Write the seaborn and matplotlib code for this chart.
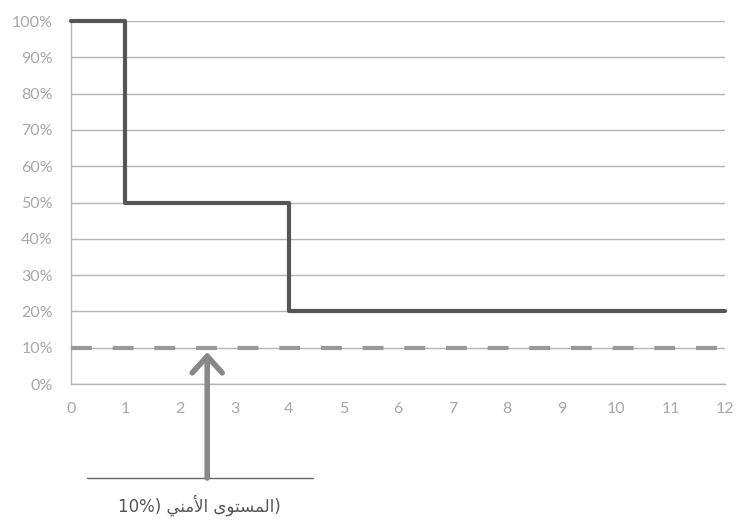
import matplotlib
matplotlib.use("Agg")
import matplotlib.pyplot as plt
import seaborn as sns

# ---- data ----
months = [0, 1, 4, 12]
level = [100, 50, 20, 20]
safety_x = [0, 12]
safety_y = [10, 10]
x_ticks = list(range(0, 13))
y_ticks = list(range(0, 101, 10))
safety_name = "المستوى الأمني"
safety_value = 10

# ---- minimal Arabic shaping (matplotlib has no shaping / bidi) ----
FORMS = {  # isolated, final, initial, medial
    "ا": (0xFE8D, 0xFE8E, None, None),
    "أ": (0xFE83, 0xFE84, None, None),
    "ل": (0xFEDD, 0xFEDE, 0xFEDF, 0xFEE0),
    "م": (0xFEE1, 0xFEE2, 0xFEE3, 0xFEE4),
    "س": (0xFEB1, 0xFEB2, 0xFEB3, 0xFEB4),
    "ت": (0xFE95, 0xFE96, 0xFE97, 0xFE98),
    "و": (0xFEED, 0xFEEE, None, None),
    "ى": (0xFEEF, 0xFEF0, None, None),
    "ن": (0xFEE5, 0xFEE6, 0xFEE7, 0xFEE8),
    "ي": (0xFEF1, 0xFEF2, 0xFEF3, 0xFEF4),
}
LAM_ALEF = {"ا": (0xFEFB, 0xFEFC), "أ": (0xFEF7, 0xFEF8)}


def shape_word(w):
    units = []
    i = 0
    while i < len(w):
        if w[i] == "ل" and i + 1 < len(w) and w[i + 1] in LAM_ALEF:
            units.append(("LA", w[i + 1]))
            i += 2
        else:
            units.append(("C", w[i]))
            i += 1

    def joins_next(u):
        return u[0] == "C" and FORMS[u[1]][2] is not None

    out = []
    for k, u in enumerate(units):
        prev_j = k > 0 and joins_next(units[k - 1])
        if u[0] == "LA":
            iso, fin = LAM_ALEF[u[1]]
            out.append(chr(fin if prev_j else iso))
            continue
        iso, fin, ini, med = FORMS[u[1]]
        next_exists = k + 1 < len(units)
        can_next = ini is not None and next_exists
        if prev_j and can_next:
            cp = med
        elif prev_j:
            cp = fin
        elif can_next:
            cp = ini
        else:
            cp = iso
        out.append(chr(cp))
    return "".join(out)


def visual_rtl(s):
    return " ".join(shape_word(w)[::-1] for w in s.split(" ")[::-1])


label_text = f"{safety_value}%) " + visual_rtl(safety_name) + ")"

# ---- style ----
sns.set_theme(style="white")
plt.rcParams["font.family"] = ["Lato", "DejaVu Sans"]

GRID = "#b4b4b4"
TICKLAB = "#a8a8a8"

fig = plt.figure(figsize=(7.47, 5.29), dpi=100)
ax = fig.add_axes([0.0950, 0.2741, 0.8755, 0.6862])

sns.lineplot(x=months, y=level, drawstyle="steps-post", color="#555555",
             linewidth=3, ax=ax, clip_on=False, zorder=4)
sns.lineplot(x=safety_x, y=safety_y, color="#999999", linewidth=3,
             linestyle=(0, (5, 5)), ax=ax, clip_on=False, zorder=3)

ax.set_xlim(0, 12)
ax.set_ylim(0, 100)
ax.set_xticks(x_ticks)
ax.set_xticklabels([str(t) for t in x_ticks])
ax.set_yticks(y_ticks)
ax.set_yticklabels([f"{t}%" for t in y_ticks])
ax.yaxis.grid(True, color=GRID, linewidth=1)
ax.xaxis.grid(False)
ax.set_axisbelow(True)

for side in ["top", "right"]:
    ax.spines[side].set_visible(False)
for side in ["left", "bottom"]:
    ax.spines[side].set_color(GRID)
    ax.spines[side].set_linewidth(1)

ax.tick_params(axis="both", which="major", direction="out", length=7,
               width=1, color=GRID, labelcolor=TICKLAB, labelsize=11.5)
ax.tick_params(axis="y", pad=6)
ax.tick_params(axis="x", pad=6)
ax.set_xlabel("")
ax.set_ylabel("")

# ---- annotation: arrow to safety level ----
arrow_x = 2.5
base_y = -25.9
ax.annotate("", xy=(arrow_x, 8.8), xytext=(arrow_x, base_y),
            arrowprops=dict(arrowstyle="->,head_length=1.0,head_width=0.9",
                            color="#888888", lw=4, shrinkA=0, shrinkB=0),
            annotation_clip=False)
ax.plot([0.29, 4.44], [base_y, base_y], color="#666666", lw=1, clip_on=False)
ax.text(2.35, -33.3, label_text, ha="center", va="center", fontsize=12,
        color="#555555", family=["DejaVu Sans"])

fig.savefig("out.png", dpi=100)
